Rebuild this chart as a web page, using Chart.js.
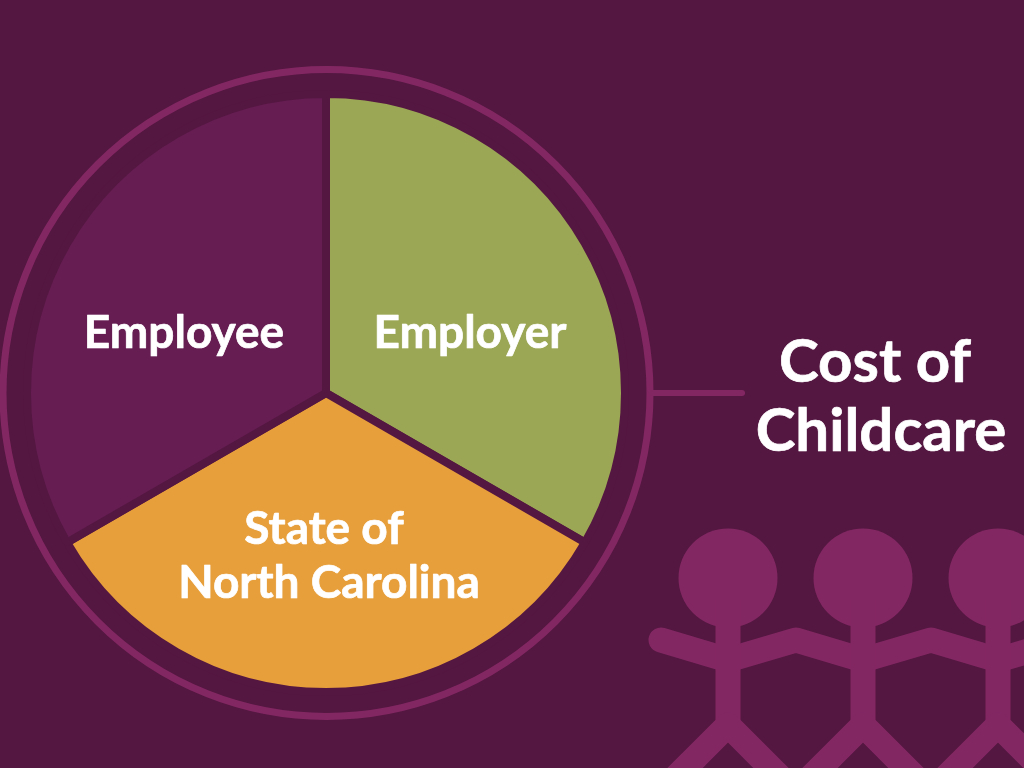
<!DOCTYPE html>
<html>
<head>
<meta charset="utf-8">
<style>
html,body{margin:0;padding:0;background:#541741;width:1024px;height:768px;overflow:hidden}
#wrap{position:relative;width:1024px;height:768px}
</style>
<script src="https://cdn.jsdelivr.net/npm/chart.js@4"></script>
</head>
<body>
<div id="wrap"><canvas id="c" width="1024" height="768"></canvas></div>
<script>
const categories = ["Employer", "State of North Carolina", "Employee"];
const shares = [33.33, 33.33, 33.33];
const sliceColors = ["#9ca755", "#e79f3c", "#651d52"];
const title = ["Cost of", "Childcare"];

const BG = "#541741", ACCENT = "#832763";

const decor = {
  id: "decor",
  beforeDatasetsDraw(chart) {
    const ctx = chart.ctx;
    const arc = chart.getDatasetMeta(0).data[0];
    const cx = arc.x, cy = arc.y;
    ctx.save();
    ctx.strokeStyle = ACCENT;
    ctx.lineWidth = 7;
    ctx.beginPath();
    ctx.arc(cx + 0.5, cy, 323.5, 0, Math.PI * 2);
    ctx.stroke();
    ctx.lineWidth = 6;
    ctx.lineCap = "round";
    ctx.beginPath();
    ctx.moveTo(cx + 324, cy);
    ctx.lineTo(742, cy);
    ctx.stroke();

    // paper-doll figures
    ctx.fillStyle = ACCENT;
    const people = [728, 863, 998];
    people.forEach(x => {
      ctx.beginPath();
      ctx.arc(x, 578, 49.5, 0, Math.PI * 2);
      ctx.fill();
    });
    ctx.lineWidth = 25;
    ctx.lineJoin = "round";
    ctx.lineCap = "round";
    ctx.beginPath();
    ctx.moveTo(661, 640);
    ctx.lineTo(728, 660);
    ctx.lineTo(796, 640);
    ctx.lineTo(863, 660);
    ctx.lineTo(931, 640);
    ctx.lineTo(998, 660);
    ctx.lineTo(1066, 640);
    ctx.stroke();
    ctx.lineCap = "butt";
    people.forEach(x => {
      ctx.beginPath();
      ctx.moveTo(x, 600);
      ctx.lineTo(x, 725);
      ctx.stroke();
      ctx.beginPath();
      ctx.moveTo(x - 70, 795);
      ctx.lineTo(x, 725);
      ctx.lineTo(x + 70, 795);
      ctx.stroke();
    });
    ctx.restore();
  },
  afterDatasetsDraw(chart) {
    const ctx = chart.ctx;
    ctx.save();
    ctx.fillStyle = "#ffffff";
    ctx.strokeStyle = "#ffffff";
    ctx.lineWidth = 0.7;
    ctx.lineJoin = "round";
    ctx.textAlign = "center";
    ctx.textBaseline = "alphabetic";
    const put = (t, x, y) => { ctx.fillText(t, x, y); ctx.strokeText(t, x, y); };
    ctx.font = "bold 46px Lato";
    put("Employee", 184, 348);
    put("Employer", 470, 348);
    put("State of", 324, 544);
    put("North Carolina", 329, 598);
    ctx.font = "bold 60px Lato";
    put(title[0], 875, 382);
    put(title[1], 881, 451);
    ctx.restore();
  }
};

new Chart(document.getElementById("c"), {
  type: "pie",
  data: {
    labels: categories,
    datasets: [{
      data: shares,
      backgroundColor: sliceColors,
      borderColor: BG,
      borderWidth: 8,
      hoverOffset: 0
    }]
  },
  options: {
    responsive: false,
    devicePixelRatio: 1,
    animation: false,
    events: [],
    layout: { padding: { left: 23, right: 395, top: 90, bottom: 72 } },
    plugins: { legend: { display: false }, tooltip: { enabled: false } }
  },
  plugins: [decor]
});
</script>
</body>
</html>
